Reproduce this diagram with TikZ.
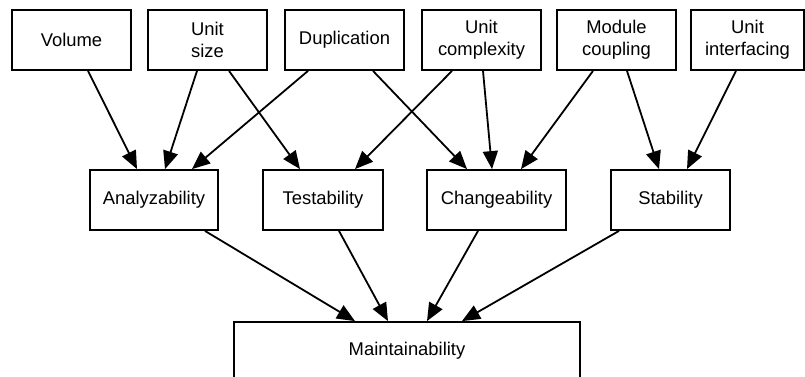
\documentclass[tikz,border=0pt]{standalone}
\usepackage{fontspec}
\setmainfont{Liberation Sans}
\usepackage{tikz}
\usetikzlibrary{arrows.meta}

\begin{document}
\begin{tikzpicture}[x=1pt,y=-1pt,
    box/.style={draw,line width=1.8pt,minimum height=60pt,align=center,inner sep=0pt,
      font=\fontsize{18.4}{22}\selectfont},
    arr/.style={-{Triangle[length=18pt,width=15pt]},line width=1.8pt}
  ]
    \useasboundingbox (0,0) rectangle (805,376);
    % metrics
    \node[box,minimum width=119pt] (vol)   at (71.5,40)  {Volume};
    \node[box,minimum width=119pt] (usize) at (207.5,40) {Unit\\size};
    \node[box,minimum width=119pt] (dup)   at (344.5,40) {Duplication};
    \node[box,minimum width=119pt] (ucomp) at (481.5,40) {Unit\\complexity};
    \node[box,minimum width=119pt] (mcoup) at (616.5,40) {Module\\coupling};
    \node[box,minimum width=113pt] (uint)  at (747.5,40) {Unit\\interfacing};
    % sub-characteristics
    \node[box,minimum width=128pt] (ana)  at (154,200)   {Analyzability};
    \node[box,minimum width=120pt] (test) at (323,200)   {Testability};
    \node[box,minimum width=139pt] (chg)  at (496.5,200) {Changeability};
    \node[box,minimum width=119pt] (stab) at (670.5,200) {Stability};
    % characteristic
    \node[box,minimum width=346pt,minimum height=58pt] (maint) at (407,351) {Maintainability};

    \draw[arr] ([xshift=16.5pt]vol.south)   -- ([xshift=-17pt]ana.north);
    \draw[arr] ([xshift=-10.5pt]usize.south) -- ([xshift=11pt]ana.north);
    \draw[arr] ([xshift=21.5pt]usize.south) -- ([xshift=-23pt]test.north);
    \draw[arr] ([xshift=-36.5pt]dup.south)  -- ([xshift=38pt]ana.north);
    \draw[arr] ([xshift=28.5pt]dup.south)   -- ([xshift=-29.5pt]chg.north);
    \draw[arr] ([xshift=-29.5pt]ucomp.south) -- ([xshift=32pt]test.north);
    \draw[arr] ([xshift=1.5pt]ucomp.south)  -- ([xshift=-4.5pt]chg.north);
    \draw[arr] ([xshift=-23.5pt]mcoup.south) -- ([xshift=24.5pt]chg.north);
    \draw[arr] ([xshift=10.5pt]mcoup.south) -- ([xshift=-11.5pt]stab.north);
    \draw[arr] ([xshift=-11.5pt]uint.south) -- ([xshift=16.5pt]stab.north);

    \draw[arr] ([xshift=51pt]ana.south)    -- ([xshift=-52pt]maint.north);
    \draw[arr] ([xshift=16pt]test.south)   -- ([xshift=-19pt]maint.north);
    \draw[arr] ([xshift=-18.5pt]chg.south) -- ([xshift=20pt]maint.north);
    \draw[arr] ([xshift=-51.5pt]stab.south) -- ([xshift=55pt]maint.north);
  \end{tikzpicture}
\end{document}
